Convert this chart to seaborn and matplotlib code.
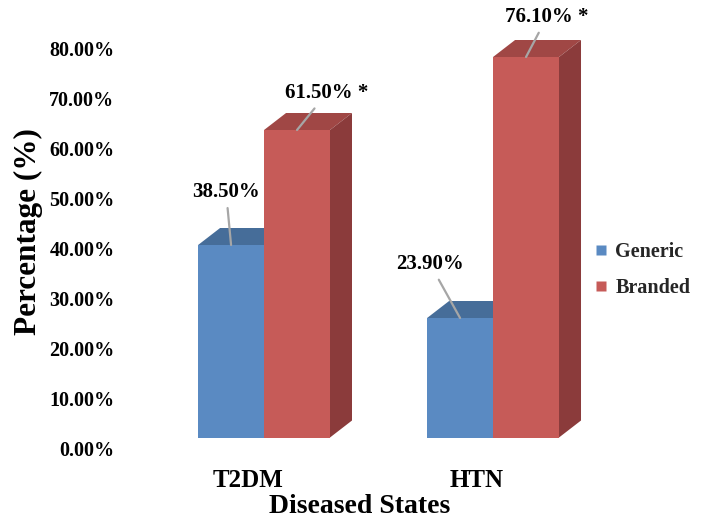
import matplotlib
matplotlib.use("Agg")
import numpy as np
import pandas as pd
import seaborn as sns
import matplotlib.pyplot as plt
from matplotlib.patches import Polygon
from matplotlib.lines import Line2D
from matplotlib.transforms import ScaledTranslation

# ---- data ----
categories = ["T2DM", "HTN"]
series = ["Generic", "Branded"]
generic = [38.5, 23.9]
branded = [61.5, 76.1]
significance = ["", " *"]          # marker appended to each series' labels
yticks = [0, 10, 20, 30, 40, 50, 60, 70, 80]

df = pd.DataFrame({
    "state": categories * 2,
    "type": [series[0]] * len(categories) + [series[1]] * len(categories),
    "pct": generic + branded,
})

# ---- style ----
sns.set_theme(style="white")
FAM = ["Liberation Serif", "DejaVu Serif"]
plt.rcParams["font.family"] = FAM
plt.rcParams["font.weight"] = "bold"
plt.rcParams["axes.labelweight"] = "bold"

front = {"Generic": "#5A8AC2", "Branded": "#C65B58"}
topc = {"Generic": "#466D99", "Branded": "#A04745"}
sidec = {"Generic": "#3E6189", "Branded": "#8B3B3B"}

W, H = 705, 529
fig = plt.figure(figsize=(W / 100, H / 100), dpi=100)
ax = fig.add_axes([120 / W, 91.5 / H, 480 / W, 425 / H])

sns.barplot(data=df, x="state", y="pct", hue="type", order=categories,
            hue_order=series, palette=front, width=0.576, saturation=1,
            linewidth=0, ax=ax, legend=False)

ax.set_xlim(-0.629, 1.467)
ax.set_ylim(0, 85)
for s in ax.spines.values():
    s.set_visible(False)
ax.grid(False)

# depth of the pseudo-3D bars, in pixels converted to data units
p0 = ax.transData.transform((0, 0))
p1 = ax.transData.transform((1, 1))
dx = 22 / (p1[0] - p0[0])
dy = 17 / (p1[1] - p0[1])

label_offsets = [[(-5, 53), (-30, 54)], [(30, 37), (21, 40)]]
for si, (name, cont) in enumerate(zip(series, ax.containers)):
    zf = 3 + 2 * si
    for ci, bar in enumerate(cont):
        bar.set_zorder(zf)
        x0, w, h = bar.get_x(), bar.get_width(), bar.get_height()
        x1 = x0 + w
        ax.add_patch(Polygon([(x0, h), (x1, h), (x1 + dx, h + dy), (x0 + dx, h + dy)],
                             closed=True, facecolor=topc[name], edgecolor="none",
                             zorder=zf - 1, clip_on=False))
        ax.add_patch(Polygon([(x1, 0), (x1 + dx, dy), (x1 + dx, h + dy), (x1, h)],
                             closed=True, facecolor=sidec[name], edgecolor="none",
                             zorder=zf - 1, clip_on=False))
        ax.annotate(f"{h:.2f}%{significance[si]}", xy=(x0 + w / 2, h),
                    xytext=label_offsets[si][ci], textcoords="offset pixels",
                    ha="center", va="center", fontsize=15, fontweight="bold",
                    family=FAM, color="black", zorder=10, annotation_clip=False,
                    arrowprops=dict(arrowstyle="-", color="#A6A6A6", lw=1.6,
                                    shrinkA=2, shrinkB=0))

# y axis
ax.set_yticks(yticks)
ax.set_yticklabels([f"{v:.2f}%" for v in yticks])
ax.tick_params(axis="y", length=0, pad=4, labelsize=14.5, colors="black")
for lab in ax.get_yticklabels():
    lab.set_fontweight("bold")
    lab.set_family(FAM)
    lab.set_transform(lab.get_transform() + ScaledTranslation(0, -11 / 100, fig.dpi_scale_trans))

# x axis
ax.tick_params(axis="x", length=0, pad=23, labelsize=18, colors="black")
for lab in ax.get_xticklabels():
    lab.set_fontweight("bold")
    lab.set_family(FAM)
    lab.set_transform(lab.get_transform() + ScaledTranslation(-16 / 100, 0, fig.dpi_scale_trans))

ax.set_xlabel("Diseased States", fontsize=20, fontweight="bold", color="black",
              labelpad=1, family=FAM)
ax.set_ylabel("Percentage (%)", fontsize=22.5, fontweight="bold", color="black", family=FAM)
ax.yaxis.set_label_coords(-0.16, 0.484)

handles = [Line2D([], [], marker="s", linestyle="none", markersize=7,
                  markerfacecolor=front[n], markeredgecolor="none") for n in series]
fig.legend(handles, series, loc="center left", bbox_to_anchor=(575 / W, 1 - 270 / H),
           frameon=False, prop={"size": 14.5, "weight": "bold", "family": FAM},
           handlelength=0.8, handletextpad=0.3, labelspacing=0.75)

fig.savefig("out.png", dpi=100)
